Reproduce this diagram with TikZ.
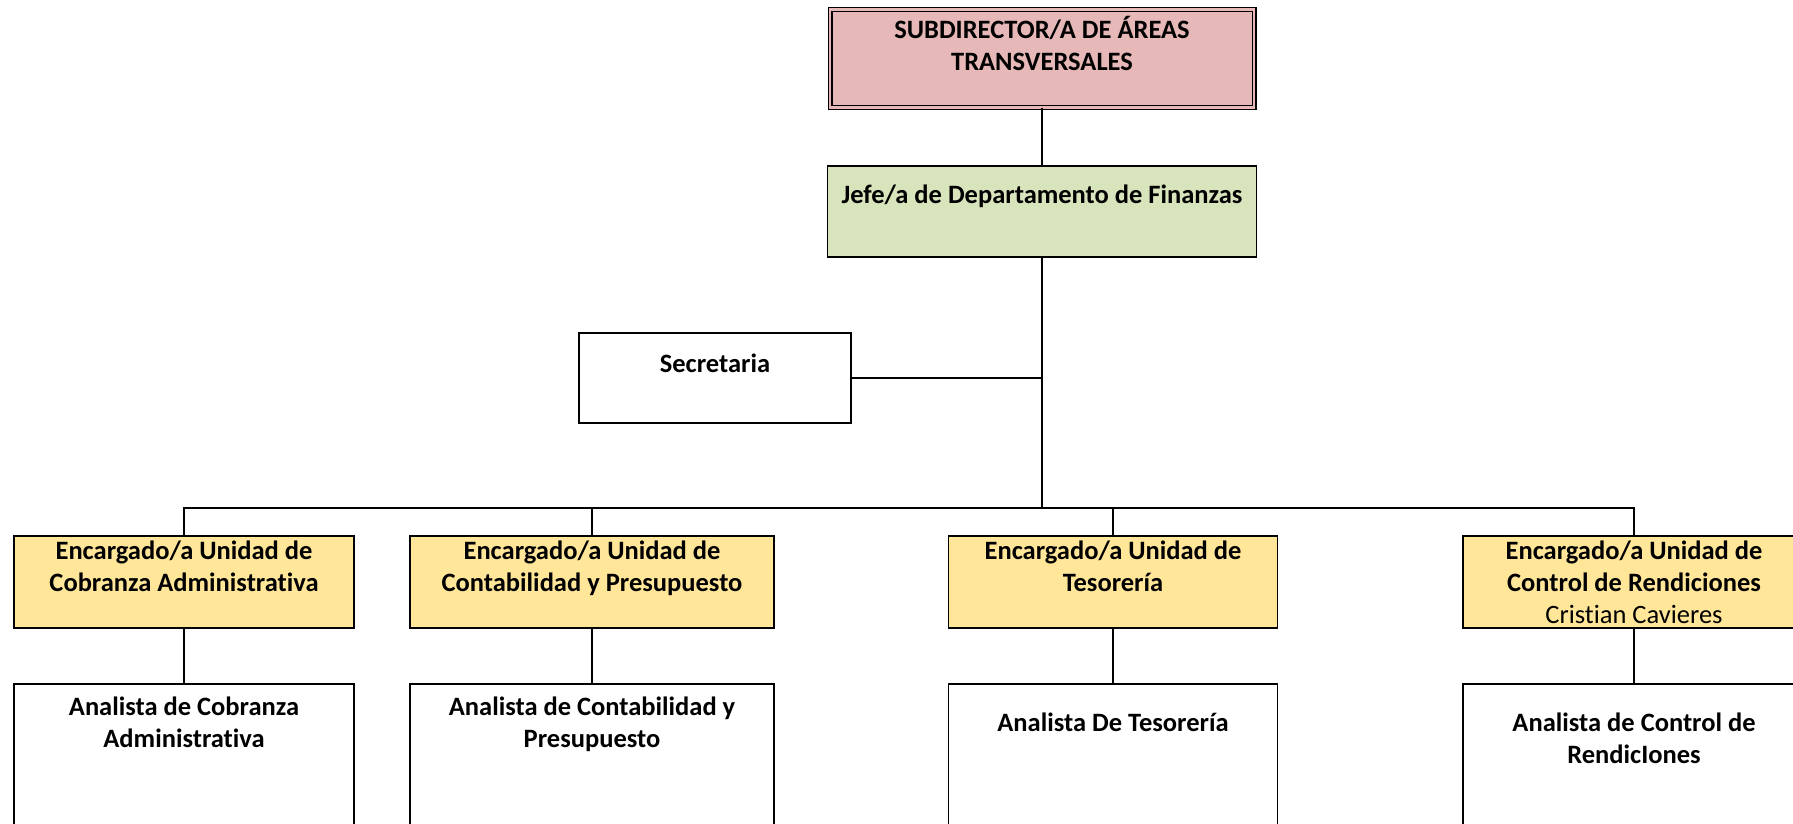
\documentclass[tikz,border=0pt]{standalone}
\usepackage{fontspec}
\setmainfont{Carlito}[Ligatures=NoCommon]
\usetikzlibrary{positioning}
\definecolor{subpink}{HTML}{E6B8B7}
\definecolor{jefegreen}{HTML}{D8E4BC}
\definecolor{encyellow}{HTML}{FFE699}
\begin{document}
\begin{tikzpicture}[x=1pt, y=-1pt,
  box/.style={draw, line width=1.9pt, inner sep=0pt},
  enc/.style={box, fill=encyellow, minimum height=92pt},
  ana/.style={box, line width=1.5pt, minimum height=160pt},
  txt/.style={inner sep=0pt, align=center, font=\fontsize{26.5}{32}\selectfont\bfseries},
  conn/.style={line width=1.9pt}]
  \clip (0,0) rectangle (1793,823);
  % top of the chart
  \node[box, fill=subpink, double=subpink, line width=1.3pt, double distance=2.4pt, minimum width=424pt, minimum height=98pt] (sub) at (1042,58.5) {};
  \node[txt, below=7pt of sub.north] (sub-t) {SUBDIRECTOR/A DE ÁREAS\\TRANSVERSALES};
  \node[box, fill=jefegreen, minimum width=429pt, minimum height=91pt] (jefe) at (1042,211.5) {};
  \node[txt, below=20pt of jefe.north] (jefe-t) {Jefe/a de Departamento de Finanzas};
  \node[box, minimum width=272pt, minimum height=90pt] (sec) at (715,378) {};
  \node[txt, below=22pt of sec.north] (sec-t) {Secretaria};
  % units
  \node[enc, minimum width=340pt] (cob) at (184,582) {};
  \node[txt, below=6pt of cob.north] (cob-t) {Encargado/a Unidad de\\Cobranza Administrativa};
  \node[enc, minimum width=364pt] (cont) at (592,582) {};
  \node[txt, below=6pt of cont.north] (cont-t) {Encargado/a Unidad de\\Contabilidad y Presupuesto};
  \node[enc, minimum width=329pt] (tes) at (1113,582) {};
  \node[txt, below=6pt of tes.north] (tes-t) {Encargado/a Unidad de\\Tesorería};
  \node[enc, minimum width=342pt] (rend) at (1634,582) {};
  \node[txt, below=6pt of rend.north] (rend-t) {Encargado/a Unidad de\\Control de Rendiciones\\{\mdseries Cristian Cavieres}};
  % analysts
  \node[ana, minimum width=340pt] (cob-a) at (184,764) {};
  \node[txt, below=13pt of cob-a.north] (cob-at) {Analista de Cobranza\\Administrativa};
  \node[ana, minimum width=364pt] (cont-a) at (592,764) {};
  \node[txt, below=13pt of cont-a.north] (cont-at) {Analista de Contabilidad y\\Presupuesto};
  \node[ana, minimum width=329pt] (tes-a) at (1113,764) {};
  \node[txt, below=29pt of tes-a.north] (tes-at) {Analista De Tesorería};
  \node[ana, minimum width=342pt] (rend-a) at (1634,764) {};
  \node[txt, below=29pt of rend-a.north] (rend-at) {Analista de Control de\\RendicIones};
  % lines
  \coordinate (bus) at (1042,508);
  \draw[conn] (sub) -- (jefe);
  \draw[conn] (jefe.south) -- (bus);
  \draw[conn] (sec.east) -- (sec.east -| bus);
  \draw[conn] (cob.north) |- (bus) -| (rend.north);
  \draw[conn] (cont.north) -- (cont.north |- bus);
  \draw[conn] (tes.north) -- (tes.north |- bus);
  \draw[conn] (cob) -- (cob-a);
  \draw[conn] (cont) -- (cont-a);
  \draw[conn] (tes) -- (tes-a);
  \draw[conn] (rend) -- (rend-a);
\end{tikzpicture}
\end{document}
